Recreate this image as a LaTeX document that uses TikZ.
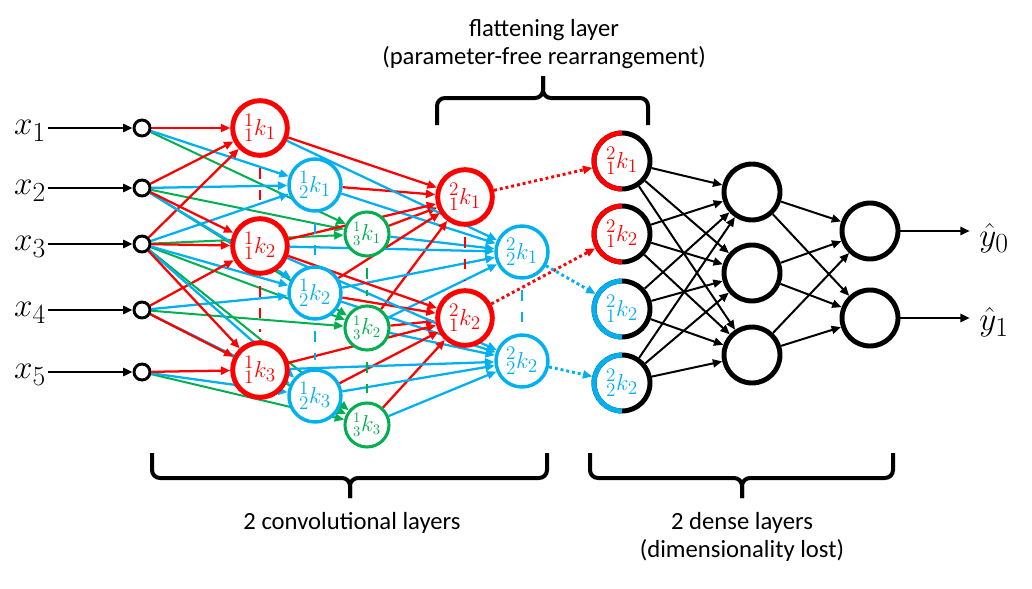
\documentclass[tikz,border=0pt]{standalone}
\usepackage{fontspec}
\setmainfont{Carlito}
\usetikzlibrary{
	arrows.meta,
	positioning
}
\pgfdeclarelayer{hinten}
\pgfsetlayers{hinten,main}
\definecolor{rot}{HTML}{FF0000}
\definecolor{blau}{HTML}{00B0F0}
\definecolor{gruen}{HTML}{00B050}
\newcommand{\kn}[3]{${}^{#1}_{#2}k_{#3}$}
\tikzset{
%Define standard arrow tip
>={Triangle[length=7pt,width=6pt]},
%Define style for input circles
eing/.style={
	circle,
	draw=black, line width=2.2pt, fill=white,
	minimum size=12pt,
	inner sep=0pt},
%Define styles for convolution nodes
rkreis/.style={
	circle,
	draw=rot, text=rot, line width=3.7pt, fill=white,
	minimum size=41pt, inner sep=0pt,
	font=\fontsize{19}{22}\selectfont},
bkreis/.style={
	circle,
	draw=blau, text=blau, line width=2.6pt, fill=white,
	minimum size=39pt, inner sep=0pt,
	font=\fontsize{19}{22}\selectfont},
gkreis/.style={
	circle,
	draw=gruen, text=gruen, line width=2.3pt, fill=white,
	minimum size=33pt, inner sep=0pt,
	font=\fontsize{16}{18}\selectfont},
%Define style for flattening and dense nodes
fkreis/.style={
	circle,
	draw=black, line width=3.7pt, fill=white,
	minimum size=42pt, inner sep=0pt,
	font=\fontsize{19}{22}\selectfont},
dkreis/.style={
	circle,
	draw=black, line width=3.7pt, fill=white,
	minimum size=42pt, inner sep=0pt},
%Define style for math labels
xlab/.style={
	inner sep=1pt,
	font=\fontsize{32}{38}\selectfont},
% Define arrow styles
inpil/.style={
	->,
	line width=2.2pt},
spil/.style={
	->,
	line width=1.5pt},
rpil/.style={
	->,
	draw=rot, line width=1.7pt},
bpil/.style={
	->,
	draw=blau, line width=1.7pt},
gpil/.style={
	->,
	draw=gruen, line width=1.5pt},
punktpil/.style={
	->,
	line width=2.2pt,
	dash pattern=on 2.2pt off 2.2pt},
strich/.style={
	line width=2.2pt,
	dash pattern=on 8pt off 8pt,
	dash phase=8pt,
	shorten >=6pt},
klammer/.style={
	line width=3pt,
	rounded corners=6pt}
}
\begin{document}
\begin{tikzpicture}[x=0.75pt, y=-0.75pt]
	\useasboundingbox (0,0) rectangle (1032,589);
	\tikzstyle{every node}=[font=\fontsize{18.5}{20.5}\selectfont]
	% input layer
	\foreach \i/\y in {1/128,2/188,3/244,4/310,5/372}{
		\node[eing] (in\i) at (142,\y) {};
		\node[xlab] (x\i) at (30,\y+3) {$x_{\i}$};
		\draw[inpil] (x\i.east |- in\i) -- (in\i);
	}
	% first convolutional layer
	\node[rkreis] (r1) at (260,128) {\kn{1}{1}{1}};
	\node[rkreis] (r2) at (260,246) {\kn{1}{1}{2}};
	\node[rkreis] (r3) at (260,370) {\kn{1}{1}{3}};
	\node[bkreis] (b1) at (315,185) {\kn{1}{2}{1}};
	\node[bkreis] (b2) at (315,293) {\kn{1}{2}{2}};
	\node[bkreis] (b3) at (315,396) {\kn{1}{2}{3}};
	\node[gkreis] (g1) at (367,234) {\kn{1}{3}{1}};
	\node[gkreis] (g2) at (367,328) {\kn{1}{3}{2}};
	\node[gkreis] (g3) at (367,425) {\kn{1}{3}{3}};
	% second convolutional layer
	\node[rkreis] (rr1) at (465,197) {\kn{2}{1}{1}};
	\node[rkreis] (rr2) at (465,318) {\kn{2}{1}{2}};
	\node[bkreis] (bb1) at (522,252) {\kn{2}{2}{1}};
	\node[bkreis] (bb2) at (522,361) {\kn{2}{2}{2}};
	% flattening layer
	\node[fkreis, text=rot] (f1) at (622,161) {\kn{2}{1}{1}};
	\node[fkreis, text=rot] (f2) at (622,234) {\kn{2}{1}{2}};
	\node[fkreis, text=blau] (f3) at (622,309) {\kn{2}{1}{2}};
	\node[fkreis, text=blau] (f4) at (622,383) {\kn{2}{2}{2}};
	\foreach \n/\c in {f1/rot,f2/rot,f3/blau,f4/blau}
		\draw[draw=\c, line width=3.7pt] ([yshift=21pt]\n.center) arc[start angle=90, end angle=270, radius=21pt];
	% dense layers
	\node[dkreis] (h1) at (752,192) {};
	\node[dkreis] (h2) at (752,273) {};
	\node[dkreis] (h3) at (752,355) {};
	\node[dkreis] (o1) at (870,231) {};
	\node[dkreis] (o2) at (870,318) {};
	\node[xlab] (y0) at (994,238) {$\hat{y}_0$};
	\node[xlab] (y1) at (994,322) {$\hat{y}_1$};
	\begin{pgfonlayer}{hinten}
	% convolution connections
	\foreach \k in {1,2,3}
		\foreach \d in {0,1,2}{
			\pgfmathtruncatemacro\i{\k+\d}
			\draw[gpil] (in\i) -- (g\k);
			\draw[bpil] (in\i) -- (b\k);
			\draw[rpil] (in\i) -- (r\k);
		}
	\foreach \k in {1,2}
		\foreach \d in {0,1}{
			\pgfmathtruncatemacro\i{\k+\d}
			\foreach \q in {g,b,r}{
				\draw[bpil] (\q\i) -- (bb\k);
				\draw[rpil] (\q\i) -- (rr\k);
			}
		}
	% shared weights
	\foreach \a/\b/\c in {r1/r2/rot,r2/r3/rot,b1/b2/blau,b2/b3/blau,g1/g2/gruen,g2/g3/gruen,rr1/rr2/rot,bb1/bb2/blau}
		\draw[strich, draw=\c] (\a) -- (\b);
	% flattening
	\draw[punktpil, draw=rot] (rr1) -- (f1);
	\draw[punktpil, draw=rot] (rr2) -- (f2);
	\draw[punktpil, draw=blau] (bb1) -- (f3);
	\draw[punktpil, draw=blau] (bb2) -- (f4);
	% dense connections
	\foreach \i in {1,...,4}
		\foreach \j in {1,2,3}
			\draw[spil] (f\i) -- (h\j);
	\foreach \j in {1,2,3}
		\foreach \k in {1,2}
			\draw[spil] (h\j) -- (o\k);
	\end{pgfonlayer}
	\draw[inpil, shorten >=6pt] (o1) -- (y0.west |- o1);
	\draw[inpil, shorten >=6pt] (o2) -- (y1.west |- o2);
	% braces
	\draw[klammer] (437,125) |- (543,98) -- (543,76);
	\draw[klammer] (648,125) |- (543,98) -- (543,76);
	\draw[klammer] (152,453) |- (350,478) -- (350,498);
	\draw[klammer] (547,453) |- (350,478) -- (350,498);
	\draw[klammer] (590,453) |- (742,478) -- (742,498);
	\draw[klammer] (893,453) |- (742,478) -- (742,498);
	\node[align=center] (flach) at (544,44) {flattening layer\\(parameter-free rearrangement)};
	\node (konv) at (352,523) {2 convolutional layers};
	\node[align=center] (dicht) at (742,537) {2 dense layers\\(dimensionality lost)};
\end{tikzpicture}
\end{document}
